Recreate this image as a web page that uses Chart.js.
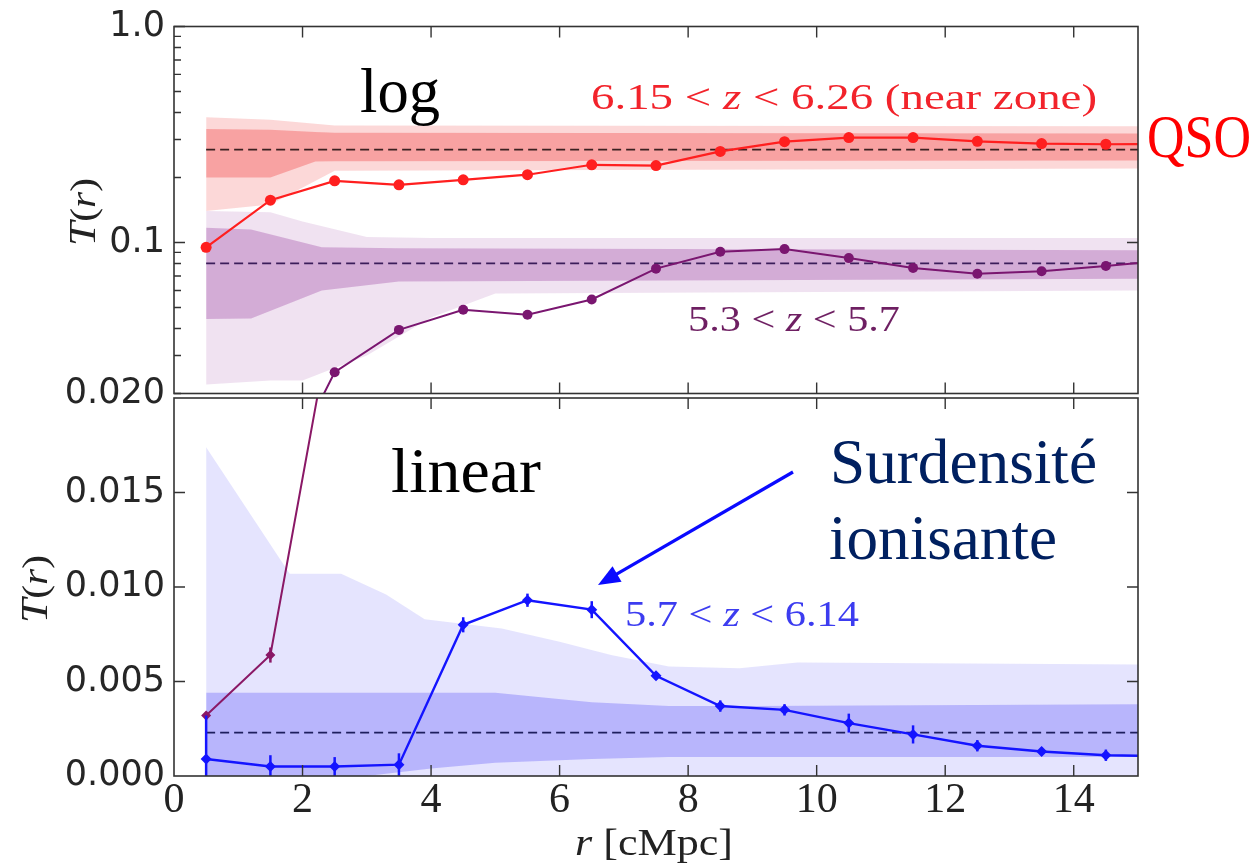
<!DOCTYPE html>
<html>
<head>
<meta charset="utf-8">
<script src="https://cdn.jsdelivr.net/npm/chart.js@4.4.1/dist/chart.umd.min.js"></script>
<style>
html, body { margin: 0; padding: 0; background: #fff; }
#cadre { position: relative; width: 1253px; height: 863px; overflow: hidden; }
#haut { position: absolute; left: 0; top: 0; }
#bas { position: absolute; left: 0; top: 368px; }
</style>
</head>
<body>
<div id="cadre">
    <canvas id="haut" width="1253" height="420"></canvas>
    <canvas id="bas" width="1253" height="495"></canvas>
</div>
<script>
// rayons (cMpc) des points, le dernier est hors cadre (coupé à 15)
const rayons = [0.5, 1.5, 2.5, 3.5, 4.5, 5.5, 6.5, 7.5, 8.5, 9.5, 10.5, 11.5, 12.5, 13.5, 14.5, 15.5];

// 6.15 < z < 6.26 (near zone)
const tQso = [0.095, 0.157, 0.193, 0.185, 0.195, 0.206, 0.229, 0.227, 0.264, 0.293, 0.306, 0.306, 0.294, 0.287, 0.285, 0.286];
// 5.3 < z < 5.7
const tBas = [0.0032, 0.0064, 0.0251, 0.0394, 0.0488, 0.0463, 0.0545, 0.0757, 0.0907, 0.0932, 0.0847, 0.0763, 0.0717, 0.0736, 0.0779, 0.083];
const errBas = [0.0002, 0.0004, 0, 0, 0, 0, 0, 0, 0, 0, 0, 0, 0, 0, 0, 0];
// 5.7 < z < 6.14
const tMilieu = [0.0009, 0.0005, 0.0005, 0.0006, 0.0080, 0.0093, 0.0088, 0.0053, 0.0037, 0.0035, 0.0028, 0.0022, 0.0016, 0.0013, 0.0011, 0.00105];
const errMilieu = [0.0023, 0.0006, 0.0005, 0.0006, 0.0004, 0.00035, 0.00045, 0.0002, 0.0003, 0.0003, 0.0005, 0.00048, 0.0003, 0.0002, 0.0003, 0.0002];

// médianes (tirets)
const medQso = 0.269;
const medBas = 0.080;
const medMilieu = 0.0023;
const bornesMed = [0.5, 15];

// bandes 1 et 2 sigma
const qsoX1 = [0.5, 1.5, 2.2, 2.5, 15];
const qso1Haut = [0.335, 0.333, 0.325, 0.322, 0.32];
const qso1Bas = [0.20, 0.20, 0.237, 0.238, 0.240];
const qsoX2 = [0.5, 1.5, 2.5, 15];
const qso2Haut = [0.38, 0.37, 0.348, 0.345];
const qso2Bas = [0.14, 0.15, 0.215, 0.22];

const basX1 = [0.5, 1.2, 2.3, 3.5, 15];
const bas1Haut = [0.117, 0.115, 0.095, 0.094, 0.092];
const bas1Bas = [0.0442, 0.0445, 0.060, 0.066, 0.068];
const basX2 = [0.5, 1.5, 2.0, 3.0, 4.0, 5.0, 15];
const bas2Haut = [0.14, 0.138, 0.125, 0.106, 0.105, 0.105, 0.105];
const bas2Bas = [0.022, 0.023, 0.023, 0.03, 0.045, 0.058, 0.06];

const milieuX2 = [0.5, 1.8, 2.6, 3.3, 3.9, 5.1, 6.0, 6.8, 7.7, 8.8, 9.7, 15];
const milieu2Haut = [0.0174, 0.0107, 0.0107, 0.0096, 0.0083, 0.0078, 0.0071, 0.0064, 0.0058, 0.0057, 0.0060, 0.0059];
const milieu2Bas = [0, 0, 0, 0, 0, 0, 0, 0, 0, 0, 0, 0];
const milieuX1 = [0.5, 3.0, 4.0, 5.0, 6.5, 7.7, 9.0, 15];
const milieu1Haut = [0.0044, 0.0044, 0.0044, 0.0044, 0.0039, 0.0037, 0.0037, 0.0038];
const milieu1Bas = [0, 0, 0.0004, 0.0007, 0.0009, 0.001, 0.001, 0.001];

// axes
const graduationsX = [2, 4, 6, 8, 10, 12, 14];
const graduationsLog = [0.02, 0.03, 0.04, 0.05, 0.06, 0.07, 0.08, 0.09, 0.1, 0.2, 0.3, 0.4, 0.5, 0.6, 0.7, 0.8, 0.9, 1.0];
const etiquettesLog = { "0.02": "0.020", "0.1": "0.1", "1": "1.0" };
const graduationsLin = [0, 0.005, 0.01, 0.015, 0.02];

function points(xs, ys) {
    return xs.map((x, i) => ({ x: x, y: ys[i] }));
}

function bande(xs, hauts, bas, couleur) {
    return [
        { data: points(xs, hauts), fill: "+1", backgroundColor: couleur, borderWidth: 0, pointRadius: 0, order: 10 },
        { data: points(xs, bas), fill: false, borderWidth: 0, pointRadius: 0, order: 10 }
    ];
}

function mediane(valeur, couleur) {
    return {
        data: points(bornesMed, [valeur, valeur]),
        borderColor: couleur, borderWidth: 1.8, borderDash: [9, 5],
        pointRadius: 0, fill: false, order: 5
    };
}

function serie(ys, couleur, style, rayon, epaisseur, erreurs) {
    return {
        data: points(rayons, ys),
        borderColor: couleur, backgroundColor: couleur, borderWidth: epaisseur,
        pointStyle: style, pointRadius: rayon, pointBorderWidth: 0,
        fill: false, order: 1, erreurs: erreurs
    };
}

function texteAjuste(ctx, morceaux, x, y, largeur, couleur) {
    let total = 0;
    morceaux.forEach(m => { ctx.font = m[1]; total += ctx.measureText(m[0]).width; });
    ctx.save();
    ctx.translate(x, y);
    ctx.scale(largeur / total, 1);
    ctx.fillStyle = couleur;
    ctx.textAlign = "left";
    ctx.textBaseline = "alphabetic";
    let pos = 0;
    morceaux.forEach(m => {
        ctx.font = m[1];
        ctx.fillText(m[0], pos, 0);
        pos += ctx.measureText(m[0]).width;
    });
    ctx.restore();
}

function titreVertical(ctx, cx, cy) {
    const morceaux = [["T", "italic 38px 'Liberation Serif'"], ["(", "36px 'Liberation Serif'"], ["r", "italic 36px 'Liberation Serif'"], [")", "36px 'Liberation Serif'"]];
    ctx.save();
    ctx.translate(cx, cy);
    ctx.rotate(-Math.PI / 2);
    texteAjuste(ctx, morceaux, -34, 12, 68, "#222");
    ctx.restore();
}

const SERIF = "'Liberation Serif'";
const MATH = "35px " + SERIF;
const MATH_I = "italic 35px " + SERIF;

const barresErreur = {
    id: "barresErreur",
    afterDatasetsDraw(chart) {
        const ctx = chart.ctx, a = chart.chartArea;
        const sx = chart.scales.x, sy = chart.scales.y;
        ctx.save();
        ctx.beginPath();
        ctx.rect(a.left, a.top, a.right - a.left, a.bottom - a.top);
        ctx.clip();
        chart.data.datasets.forEach(ds => {
            if (!ds.erreurs) return;
            ctx.strokeStyle = ds.borderColor;
            ctx.lineWidth = 2.5;
            ds.data.forEach((p, i) => {
                const e = ds.erreurs[i];
                if (!e) return;
                const x = sx.getPixelForValue(p.x);
                ctx.beginPath();
                ctx.moveTo(x, sy.getPixelForValue(p.y - e));
                ctx.lineTo(x, sy.getPixelForValue(p.y + e));
                ctx.stroke();
            });
        });
        ctx.restore();
    }
};

function cadre(gauche, droite, etiquettesX, textes) {
    return {
        id: "cadre",
        afterDraw(chart) {
            const ctx = chart.ctx, a = chart.chartArea;
            const sx = chart.scales.x, sy = chart.scales.y;
            ctx.save();
            ctx.strokeStyle = "#333";
            ctx.lineWidth = 1.6;
            ctx.strokeRect(a.left, a.top, a.right - a.left, a.bottom - a.top);
            ctx.lineWidth = 1.4;
            ctx.beginPath();
            graduationsX.forEach(v => {
                const x = sx.getPixelForValue(v);
                ctx.moveTo(x, a.top); ctx.lineTo(x, a.top + 11);
                ctx.moveTo(x, a.bottom); ctx.lineTo(x, a.bottom - 11);
            });
            gauche.forEach(g => {
                const y = sy.getPixelForValue(g[0]);
                ctx.moveTo(a.left, y); ctx.lineTo(a.left + g[1], y);
            });
            droite.forEach(g => {
                const y = sy.getPixelForValue(g[0]);
                ctx.moveTo(a.right, y); ctx.lineTo(a.right - g[1], y);
            });
            ctx.stroke();
            if (etiquettesX) {
                // étiquettes de l'axe x, tirées des graduations de l'échelle
                ctx.font = "42px " + SERIF;
                ctx.fillStyle = "#222";
                ctx.textAlign = "center";
                ctx.textBaseline = "alphabetic";
                sx.ticks.forEach(t => {
                    ctx.fillText(String(t.value), sx.getPixelForValue(t.value), a.bottom + 36);
                });
            }
            ctx.restore();
            textes(chart.ctx);
        }
    };
}

const axeX = {
    type: "linear", min: 0, max: 15,
    grid: { display: false, drawTicks: false },
    border: { display: false },
    ticks: { stepSize: 2, includeBounds: false, display: false }
};

// panneau du haut : échelle log
new Chart(document.getElementById("haut"), {
    type: "line",
    data: {
        datasets: [
            ...bande(qsoX2, qso2Haut, qso2Bas, "rgba(238, 40, 40, 0.18)"),
            ...bande(qsoX1, qso1Haut, qso1Bas, "rgba(238, 40, 40, 0.30)"),
            ...bande(basX2, bas2Haut, bas2Bas, "rgba(130, 20, 140, 0.12)"),
            ...bande(basX1, bas1Haut, bas1Bas, "rgba(130, 20, 140, 0.26)"),
            mediane(medQso, "#3a2020"),
            mediane(medBas, "#3b1d5a"),
            serie(tQso, "#ff1f1f", "circle", 5.5, 2.2),
            serie(tBas, "#7a1670", "circle", 5, 2)
        ]
    },
    options: {
        responsive: false,
        animation: false,
        datasets: { line: { clip: 0 } },
        layout: { padding: { top: 22, right: 115, bottom: 22, left: 0 } },
        plugins: { legend: { display: false }, tooltip: { enabled: false } },
        scales: {
            x: Object.assign({}, axeX, { display: false }),
            y: {
                type: "logarithmic", min: 0.02, max: 1,
                afterBuildTicks: s => { s.ticks = graduationsLog.map(v => ({ value: v })); },
                afterFit: s => { s.width = 174; },
                grid: { display: false, drawTicks: false },
                border: { display: false },
                ticks: {
                    autoSkip: false, padding: 9, color: "#262626",
                    font: { family: "'DejaVu Sans', sans-serif", size: 35, lineHeight: 1 },
                    callback: v => etiquettesLog[String(+v.toPrecision(3))] || ""
                }
            }
        }
    },
    plugins: [cadre(
        graduationsLog.map(v => [v, (v === 0.1 || v === 1) ? 11 : 7]),
        [[0.1, 11]],
        false,
        ctx => {
            texteAjuste(ctx, [["log", "64px " + SERIF]], 360, 112, 80, "#000");
            texteAjuste(ctx, [["6.15 < ", MATH], ["z", MATH_I], [" < 6.26 (near zone)", MATH]], 591, 109, 506, "#f2232b");
            texteAjuste(ctx, [["5.3 < ", MATH], ["z", MATH_I], [" < 5.7", MATH]], 688, 331, 212, "#6e1f62");
            texteAjuste(ctx, [["QSO", "62px " + SERIF]], 1147, 157, 104, "#ff0000");
            titreVertical(ctx, 83, 212);
        }
    )]
});

// panneau du bas : échelle linéaire
const HAUT_BAS = 368;
new Chart(document.getElementById("bas"), {
    type: "line",
    data: {
        datasets: [
            ...bande(milieuX2, milieu2Haut, milieu2Bas, "rgba(40, 30, 245, 0.12)"),
            ...bande(milieuX1, milieu1Haut, milieu1Bas, "rgba(40, 30, 245, 0.24)"),
            mediane(medMilieu, "#1e1e5e"),
            serie(tBas, "#8a1866", "rectRot", 5, 2, errBas),
            serie(tMilieu, "#1414ff", "rectRot", 5.5, 2.4, errMilieu)
        ]
    },
    options: {
        responsive: false,
        animation: false,
        datasets: { line: { clip: 0 } },
        layout: { padding: { top: 30, right: 115, bottom: 0, left: 0 } },
        plugins: { legend: { display: false }, tooltip: { enabled: false } },
        scales: {
            x: Object.assign({}, axeX, { afterFit: s => { s.height = 87; } }),
            y: {
                type: "linear", min: 0, max: 0.02,
                afterBuildTicks: s => { s.ticks = graduationsLin.map(v => ({ value: v })); },
                afterFit: s => { s.width = 174; },
                grid: { display: false, drawTicks: false },
                border: { display: false },
                ticks: {
                    autoSkip: false, padding: 9, color: "#262626",
                    font: { family: "'DejaVu Sans', sans-serif", size: 35, lineHeight: 1 },
                    callback: v => v > 0.019 ? "" : v.toFixed(3)
                }
            }
        }
    },
    plugins: [barresErreur, cadre(
        [[0.005, 11], [0.01, 11], [0.015, 11]],
        [[0.005, 11], [0.01, 11], [0.015, 11]],
        true,
        ctx => {
            const d = HAUT_BAS;
            texteAjuste(ctx, [["linear", "64px " + SERIF]], 391, 492 - d, 150, "#000");
            texteAjuste(ctx, [["Surdensité", "64px " + SERIF]], 830, 483 - d, 267, "#002060");
            texteAjuste(ctx, [["ionisante", "64px " + SERIF]], 829, 559 - d, 228, "#002060");
            texteAjuste(ctx, [["5.7 < ", MATH], ["z", MATH_I], [" < 6.14", MATH]], 625, 626 - d, 234, "#3c3cf0");
            texteAjuste(ctx, [["r", "italic 38px " + SERIF], [" [cMpc]", "38px " + SERIF]], 575, 855 - d, 158, "#222");
            titreVertical(ctx, 35, 589 - d);

            // flèche vers la surdensité
            const x0 = 793, y0 = 472 - d, x1 = 598, y1 = 585 - d;
            const ang = Math.atan2(y1 - y0, x1 - x0);
            ctx.save();
            ctx.strokeStyle = "#0a0aff";
            ctx.fillStyle = "#0a0aff";
            ctx.lineWidth = 3.2;
            ctx.beginPath();
            ctx.moveTo(x0, y0);
            ctx.lineTo(x1 - 18 * Math.cos(ang), y1 - 18 * Math.sin(ang));
            ctx.stroke();
            ctx.beginPath();
            ctx.moveTo(x1, y1);
            ctx.lineTo(x1 - 22 * Math.cos(ang) + 9 * Math.sin(ang), y1 - 22 * Math.sin(ang) - 9 * Math.cos(ang));
            ctx.lineTo(x1 - 22 * Math.cos(ang) - 9 * Math.sin(ang), y1 - 22 * Math.sin(ang) + 9 * Math.cos(ang));
            ctx.closePath();
            ctx.fill();
            ctx.restore();
        }
    )]
});
</script>
</body>
</html>
